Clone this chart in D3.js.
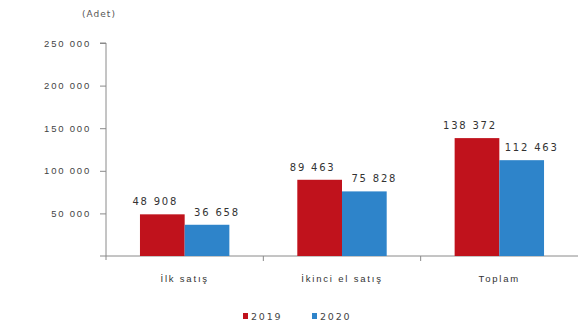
<!DOCTYPE html>
<html>
<head>
<meta charset="utf-8">
<script src="https://cdn.jsdelivr.net/npm/d3@7"></script>
<style>
  html, body { margin: 0; padding: 0; background: #fff; }
  svg { display: block; font-family: "DejaVu Sans", "Liberation Sans", Arial, sans-serif; }
</style>
</head>
<body>
<svg id="chart" width="580" height="331"></svg>
<script>
// Konut satışları, satış türüne göre (adet)
const categories = ["İlk satış", "İkinci el satış", "Toplam"];
const years = ["2019", "2020"];
const values2019 = [48908, 89463, 138372];
const values2020 = [36658, 75828, 112463];
const yTicks = [50000, 100000, 150000, 200000, 250000];
const colors = ["#c0121c", "#2e84ca"];

const svg = d3.select("#chart");
const margin = { left: 106, right: 2, top: 43, bottom: 75 };
const W = 580, H = 331;
const spacing = "1.8px";

const fmt = d3.formatLocale({ decimal: ",", thousands: " ", grouping: [3], currency: ["", ""] }).format(",d");

const x0 = d3.scaleBand().domain(categories).range([margin.left, W - margin.right]).paddingInner(0).paddingOuter(0);
const x1 = d3.scaleBand().domain(years).range([0, x0.bandwidth()]).paddingInner(0).paddingOuter(0.76);
const y = d3.scaleLinear().domain([0, 250000]).range([H - margin.bottom, margin.top]);

// Y axis
const yAxis = d3.axisLeft(y).tickValues(yTicks).tickSize(6).tickPadding(9).tickFormat(fmt);
const gy = svg.append("g").attr("transform", `translate(${margin.left},0)`).call(yAxis);
gy.select(".domain").attr("stroke", "#8a8a8a").attr("d", `M-6,${y(250000)}H0V${y(0) + 4}`);
gy.selectAll(".tick line").attr("stroke", "#8a8a8a");
gy.selectAll(".tick text").attr("fill", "#444").style("font-size", "9.5px").style("letter-spacing", spacing);

// X axis
const gx = svg.append("g").attr("transform", `translate(0,${y(0)})`)
  .call(d3.axisBottom(x0).tickSize(0).tickPadding(19));
gx.select(".domain").attr("stroke", "#8a8a8a").attr("d", `M${margin.left - 6},0H${W - margin.right}`);
gx.selectAll(".tick text").attr("fill", "#333").style("font-size", "9.5px").style("letter-spacing", spacing);
// category separators
svg.append("g").selectAll("line").data(categories.slice(1)).join("line")
  .attr("x1", d => x0(d)).attr("x2", d => x0(d))
  .attr("y1", y(0)).attr("y2", y(0) + 5)
  .attr("stroke", "#8a8a8a");

// Bars
const rows = categories.map((c, i) => ({ cat: c, vals: [values2019[i], values2020[i]] }));
const groups = svg.append("g").selectAll("g").data(rows).join("g")
  .attr("transform", d => `translate(${x0(d.cat)},0)`);
const cells = d => d.vals.map((v, j) => ({ year: years[j], v, j }));
groups.selectAll("rect").data(cells).join("rect")
  .attr("x", d => x1(d.year))
  .attr("width", x1.bandwidth())
  .attr("y", d => y(d.v))
  .attr("height", d => y(0) - y(d.v))
  .attr("fill", d => colors[d.j]);
// value labels sit slightly outward from each bar's centre
groups.selectAll("text").data(cells).join("text")
  .attr("x", d => x1(d.year) + x1.bandwidth() / 2 + (d.j === 0 ? -7 : 10))
  .attr("y", d => y(d.v) - 9)
  .attr("text-anchor", "middle")
  .attr("fill", "#333")
  .style("font-size", "10px")
  .style("letter-spacing", spacing)
  .text(d => fmt(d.v));

// Unit label
svg.append("text").attr("x", 99).attr("y", 17).attr("text-anchor", "middle")
  .attr("fill", "#555").style("font-size", "9px").style("letter-spacing", "1px").text("(Adet)");

// Legend
const leg = svg.append("g").attr("transform", "translate(243,320)");
const items = leg.selectAll("g").data(years).join("g")
  .attr("transform", (d, i) => `translate(${i * 69},0)`);
items.append("rect").attr("x", 0).attr("y", -7).attr("width", 5).attr("height", 6)
  .attr("fill", (d, i) => colors[i]);
items.append("text").attr("x", 8).attr("y", 0).attr("fill", "#444")
  .style("font-size", "9.5px").style("letter-spacing", spacing).text(d => d);
</script>
</body>
</html>
